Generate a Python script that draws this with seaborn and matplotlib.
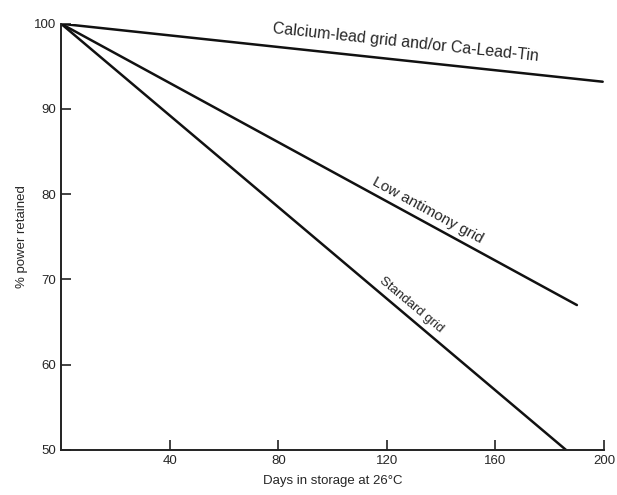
import matplotlib
matplotlib.use("Agg")
import matplotlib.pyplot as plt
import seaborn as sns
import pandas as pd

series_names = ["Calcium-lead grid and/or Ca-Lead-Tin", "Low antimony grid", "Standard grid"]
days_start = [0, 0, 0]
days_end = [199.5, 190, 186]
power_start = [100, 100, 100]
power_end = [93.2, 67.0, 50.0]
x_ticks = [40, 80, 120, 160, 200]
y_ticks = [50, 60, 70, 80, 90, 100]

rows = []
for n, d0, d1, p0, p1 in zip(series_names, days_start, days_end, power_start, power_end):
    rows.append({"series": n, "days": d0, "power": p0})
    rows.append({"series": n, "days": d1, "power": p1})
df = pd.DataFrame(rows)

sns.set_theme(style="ticks")
plt.rcParams["font.family"] = ["Liberation Sans", "DejaVu Sans"]

fig = plt.figure(figsize=(6.17, 4.95), dpi=100)
ax = fig.add_axes([0.099, 0.091, 0.88, 0.861])
sns.lineplot(data=df, x="days", y="power", hue="series",
             palette=["#111111"] * 3, linewidth=1.8, legend=False, ax=ax)

ax.set_xlim(0, 200)
ax.set_ylim(50, 100)
ax.set_xticks(x_ticks)
ax.set_yticks(y_ticks)
ax.tick_params(direction="in", length=7, width=1.2, labelsize=9.5, color="#222222")
for s in ["top", "right"]:
    ax.spines[s].set_visible(False)
for s in ["left", "bottom"]:
    ax.spines[s].set_linewidth(1.4)
    ax.spines[s].set_color("#222222")
ax.set_xlabel("Days in storage at 26°C", fontsize=9.5, labelpad=6)
ax.set_ylabel("% power retained", fontsize=9.5, labelpad=4)

ax.text(127, 97.8, series_names[0], rotation=-6, ha="center", va="center", fontsize=11.5)
ax.text(135, 78.1, series_names[1], rotation=-28.5, ha="center", va="center", fontsize=11)
ax.text(129, 67.0, series_names[2], rotation=-40, ha="center", va="center", fontsize=9.5)

fig.savefig("out.png", dpi=100)
